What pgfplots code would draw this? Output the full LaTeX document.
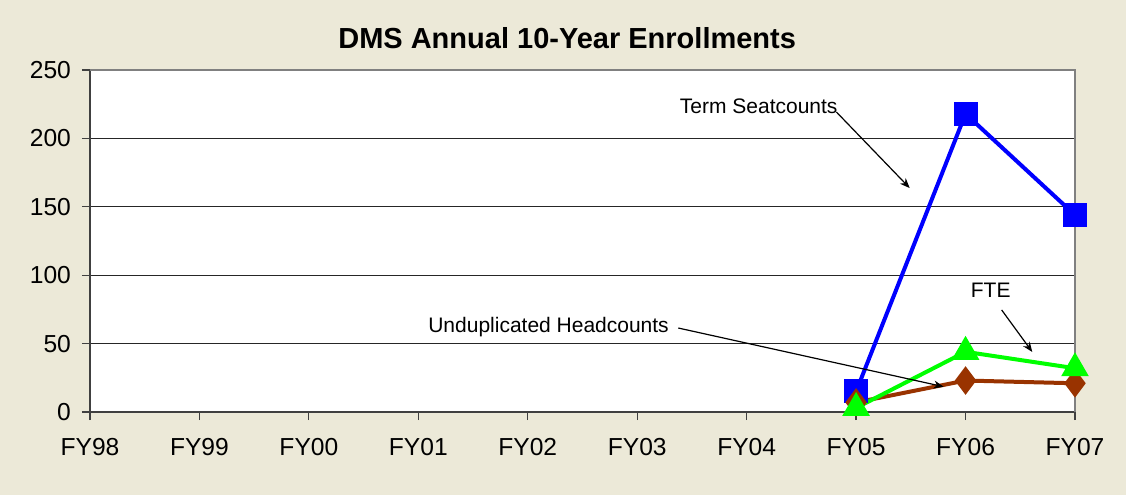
\documentclass[border=0pt]{standalone}
\usepackage{fontspec}
\setmainfont{Liberation Sans}
\usepackage{pgfplots}
\pgfplotsset{compat=1.18}
\usetikzlibrary{arrows.meta}
\definecolor{bgbeige}{HTML}{ECE9D8}
\definecolor{serblue}{HTML}{0000FF}
\definecolor{sergreen}{HTML}{00FF00}
\definecolor{serbrown}{HTML}{993300}
\begin{document}
\begin{tikzpicture}
\fill[bgbeige] (-45pt,-41.5pt) rectangle (518pt,206pt);
\begin{axis}[
  at={(0pt,0pt)}, anchor=south west,
  scale only axis,
  width=492.5pt, height=171pt,
  xmin=0, xmax=9, ymin=0, ymax=250,
  xtick={0,...,9},
  xticklabels={FY98,FY99,FY00,FY01,FY02,FY03,FY04,FY05,FY06,FY07},
  ytick={0,50,100,150,200,250},
  ymajorgrids,
  major grid style={black!85, line width=0.5pt},
  axis background/.style={fill=white},
  axis x line*=bottom, axis y line*=left,
  axis line style={black!75, line width=0.7pt},
  tick style={black!75, line width=0.6pt},
  tick align=outside,
  major tick length=4pt,
  x axis line style={-}, y axis line style={-},
  /pgf/number format/assume math mode=true,
  tick label style={font=\fontsize{12.3}{14}\selectfont},
  xticklabel style={yshift=-5.5pt},
  yticklabel style={xshift=-2pt},
  clip=false,
]
\draw[black!50, line width=0.6pt] (axis cs:0,250) -- (axis cs:9,250) -- (axis cs:9,0);
\node[font=\bfseries\fontsize{14.5}{16}\selectfont] at (axis cs:4.36,273.5) {DMS Annual 10-Year Enrollments};
% Term Seatcounts
\addplot[serblue, line width=2pt, mark=square*, mark size=5pt, mark options={solid}]
  coordinates {(7,15) (8,218) (9,144)};
% Unduplicated Headcounts
\addplot[serbrown, line width=2pt, mark=diamond*, mark size=5.5pt, mark options={solid}]
  coordinates {(7,7) (8,23) (9,21)};
% FTE
\addplot[sergreen, line width=2pt, mark=triangle*, mark size=6pt, mark options={solid}]
  coordinates {(7,3) (8,44) (9,32)};
\node[font=\fontsize{10.5}{12}\selectfont] at (axis cs:6.11,223.5) {Term Seatcounts};
\draw[-{Stealth[length=5pt,width=4pt]}, line width=0.6pt] (axis cs:6.82,219.3) -- (axis cs:7.49,163.7);
\node[font=\fontsize{10.5}{12}\selectfont] at (axis cs:8.23,89.2) {FTE};
\draw[-{Stealth[length=5pt,width=4pt]}, line width=0.6pt] (axis cs:8.33,74.6) -- (axis cs:8.61,43.9);
\node[font=\fontsize{10.5}{12}\selectfont] at (axis cs:4.19,62.1) {Unduplicated Headcounts};
\draw[-{Stealth[length=5pt,width=4pt]}, line width=0.6pt] (axis cs:5.375,61.4) -- (axis cs:7.80,18.5);
\end{axis}
\end{tikzpicture}
\end{document}
